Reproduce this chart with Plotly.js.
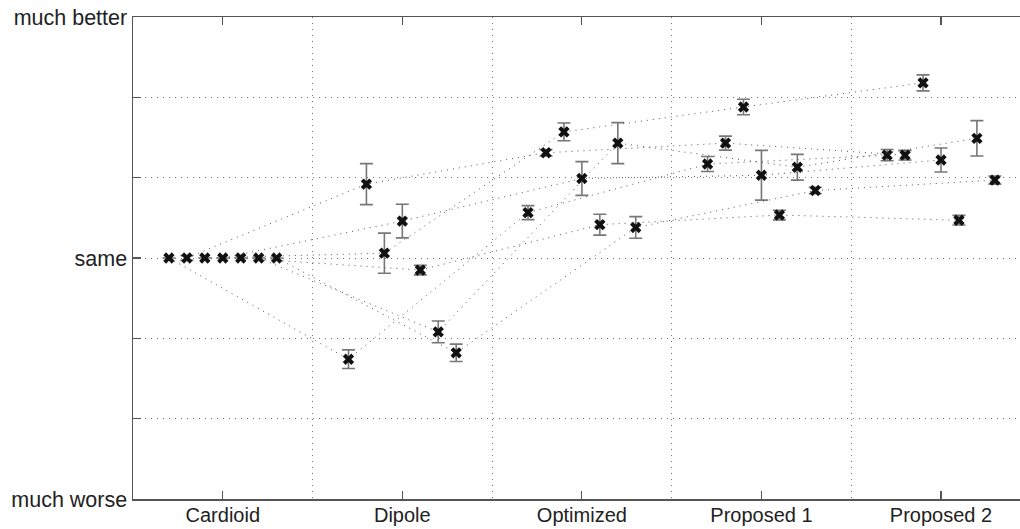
<!DOCTYPE html>
<html>
<head>
<meta charset="utf-8">
<script src="https://cdn.plot.ly/plotly-3.0.1.min.js"></script>
<style>html,body{margin:0;padding:0;background:#fff;overflow:hidden}#chart{width:1020px;height:529px}</style>
</head>
<body>
<div id="chart"></div>
<script>
const categories = ['Cardioid', 'Dipole', 'Optimized', 'Proposed 1', 'Proposed 2'];
const yTickValues = [-3, -2, -1, 0, 1, 2, 3];
const yTickLabels = ['much worse', '', '', 'same', '', '', 'much better'];

// Mean ratings per condition (7 conditions), one value per method
const series1 = [0, -1.26, 0.565, 1.17, 1.28];
const series2 = [0, 0.92, 1.31, 1.43, 1.28];
const series3 = [0, 0.06, 1.57, 1.88, 2.18];
const series4 = [0, 0.46, 0.99, 1.03, 1.22];
const series5 = [0, -0.15, 0.415, 0.535, 0.47];
const series6 = [0, -0.92, 1.43, 1.13, 1.49];
const series7 = [0, -1.18, 0.38, 0.84, 0.97];

// Error bar half-lengths
const err1 = [0, 0.116, 0.087, 0.093, 0.07];
const err2 = [0.03, 0.255, 0.04, 0.087, 0.06];
const err3 = [0, 0.25, 0.11, 0.097, 0.1];
const err4 = [0, 0.21, 0.21, 0.31, 0.15];
const err5 = [0, 0.06, 0.13, 0.06, 0.06];
const err6 = [0, 0.135, 0.255, 0.16, 0.22];
const err7 = [0, 0.108, 0.135, 0.04, 0.05];

const allSeries = [series1, series2, series3, series4, series5, series6, series7];
const allErr = [err1, err2, err3, err4, err5, err6, err7];

const traces = allSeries.map((vals, s) => ({
  type: 'scatter',
  mode: 'lines+markers',
  x: categories.map((c, i) => (i + 1) + (s - 3) * 0.1),
  y: vals,
  line: {color: '#555', width: 1, dash: '1px,5px'},
  marker: {symbol: 'x', size: 10, color: '#111', line: {width: 0}},
  error_y: {type: 'data', array: allErr[s], visible: true, color: '#777', thickness: 1.6, width: 6.5},
  showlegend: false,
  hoverinfo: 'skip'
}));

const font = {family: 'Liberation Sans, Arial, sans-serif', size: 21.5, color: '#222'};
const xfont = {family: 'Liberation Sans, Arial, sans-serif', size: 20, color: '#222'};

const layout = {
  width: 1020, height: 529,
  margin: {l: 133, r: 0, t: 17, b: 30},
  paper_bgcolor: '#fff', plot_bgcolor: '#fff',
  font: font,
  showlegend: false,
  xaxis: {
    range: [0.5, 5.44],
    tickmode: 'array', tickvals: categories.map((c, i) => i + 1), ticktext: categories,
    ticks: 'inside', ticklen: 8, tickwidth: 1.2, tickcolor: '#555',
    showline: true, linecolor: '#555', linewidth: 1.5, mirror: 'ticks',
    showgrid: false, zeroline: false,
    tickfont: xfont, ticklabelstandoff: -3,
    minor: {tick0: 0.5, dtick: 1, showgrid: true, griddash: '1px,5px', gridcolor: '#777', gridwidth: 1, ticklen: 0}
  },
  yaxis: {
    range: [-3, 3],
    tickmode: 'array', tickvals: yTickValues, ticktext: yTickLabels,
    ticks: 'inside', ticklen: 8, tickwidth: 1.2, tickcolor: '#555',
    showline: true, linecolor: '#555', linewidth: 1.5, mirror: false,
    showgrid: true, griddash: '1px,5px', gridcolor: '#777', gridwidth: 1,
    zeroline: false,
    tickfont: font
  }
};

Plotly.newPlot('chart', traces, layout, {displayModeBar: false, staticPlot: true});
</script>
</body>
</html>
